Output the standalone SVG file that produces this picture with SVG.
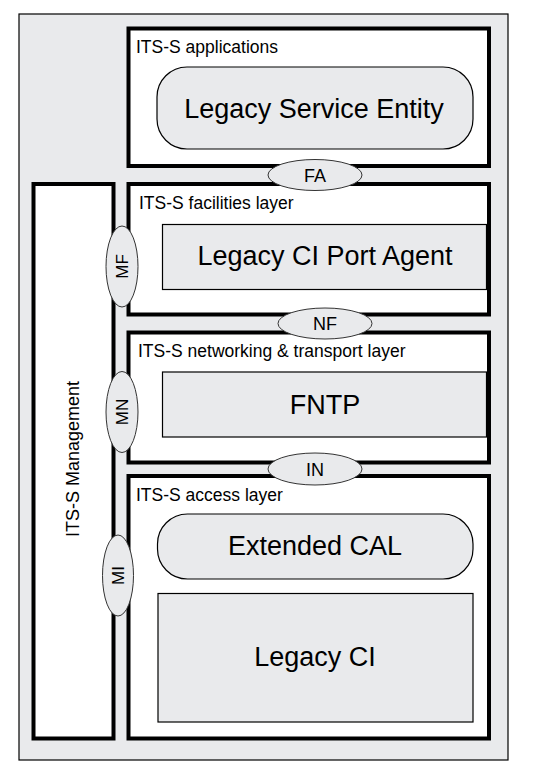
<svg xmlns="http://www.w3.org/2000/svg" width="538" height="777" viewBox="0 0 538 777">
<style>
.bg{fill:#ffffff}
.outer{fill:#e9eaec;stroke:#000;stroke-width:1.2}
.layer{fill:#fff;stroke:#000;stroke-width:4}
.ent{fill:#e9eaec;stroke:#000;stroke-width:1.2}
.sap{fill:#e9eaec;stroke:#333;stroke-width:1}
.t{font-family:"Liberation Sans",Arial,sans-serif;fill:#000}
.title{font-size:17.5px}
.big{font-size:27px;text-anchor:middle}
.sapt{font-size:18px;text-anchor:middle}
.sapv{font-size:17px;text-anchor:middle}
</style>
<rect class="bg" x="0" y="0" width="538" height="777"/>
<rect class="outer" x="19" y="14" width="489" height="746"/>

<g id="management">
<rect class="layer" x="33.5" y="184" width="80" height="554.5"/>
<text class="t title" x="0" y="0" text-anchor="middle" transform="translate(79,459) rotate(-90)" style="font-size:18px">ITS-S Management</text>
</g>

<g id="applications">
<rect class="layer" x="128.5" y="28.5" width="360.5" height="137.5"/>
<text class="t title" x="136" y="52.5">ITS-S applications</text>
</g>
<g id="legacy-service-entity">
<rect class="ent" x="157" y="67" width="316" height="82" rx="30" ry="30"/>
<text class="t big" x="314" y="117.5">Legacy Service Entity</text>
</g>

<g id="facilities">
<rect class="layer" x="128.5" y="184" width="360.5" height="130.5"/>
<text class="t title" x="139" y="209">ITS-S facilities layer</text>
</g>
<g id="legacy-ci-port-agent">
<rect class="ent" x="162.5" y="224.5" width="324" height="65"/>
<text class="t big" x="325" y="265">Legacy CI Port Agent</text>
</g>

<g id="networking">
<rect class="layer" x="128.5" y="332.5" width="360.5" height="130"/>
<text class="t title" x="138" y="356.5">ITS-S networking &amp; transport layer</text>
</g>
<g id="fntp">
<rect class="ent" x="162.5" y="372" width="324" height="65"/>
<text class="t big" x="325" y="414">FNTP</text>
</g>

<g id="access">
<rect class="layer" x="128.5" y="476" width="360.5" height="262.5"/>
<text class="t title" x="136" y="500.5">ITS-S access layer</text>
</g>
<g id="extended-cal">
<rect class="ent" x="157.5" y="514" width="315.5" height="65" rx="30" ry="30"/>
<text class="t big" x="315" y="555">Extended CAL</text>
</g>
<g id="legacy-ci">
<rect class="ent" x="158" y="593.5" width="315" height="128.5"/>
<text class="t big" x="315" y="666">Legacy CI</text>
</g>

<g id="connectors">
<g id="sap-fa">
<ellipse class="sap" cx="315" cy="175" rx="47" ry="15.5"/>
<text class="t sapt" x="315" y="181.5">FA</text>
</g>
<g id="sap-nf">
<ellipse class="sap" cx="325" cy="323.5" rx="47" ry="15.5"/>
<text class="t sapt" x="325" y="330">NF</text>
</g>
<g id="sap-in">
<ellipse class="sap" cx="315" cy="469" rx="47" ry="16"/>
<text class="t sapt" x="315" y="475.5">IN</text>
</g>
<g id="sap-mf">
<ellipse class="sap" cx="122" cy="266.5" rx="16" ry="40.5"/>
<text class="t sapv" x="0" y="0" transform="translate(128,266.5) rotate(-90)">MF</text>
</g>
<g id="sap-mn">
<ellipse class="sap" cx="122" cy="412" rx="16" ry="40.5"/>
<text class="t sapv" x="0" y="0" transform="translate(128,412) rotate(-90)">MN</text>
</g>
<g id="sap-mi">
<ellipse class="sap" cx="118" cy="575.5" rx="15.5" ry="40.5"/>
<text class="t sapv" x="0" y="0" transform="translate(124,575.5) rotate(-90)">MI</text>
</g>
</g>
</svg>
